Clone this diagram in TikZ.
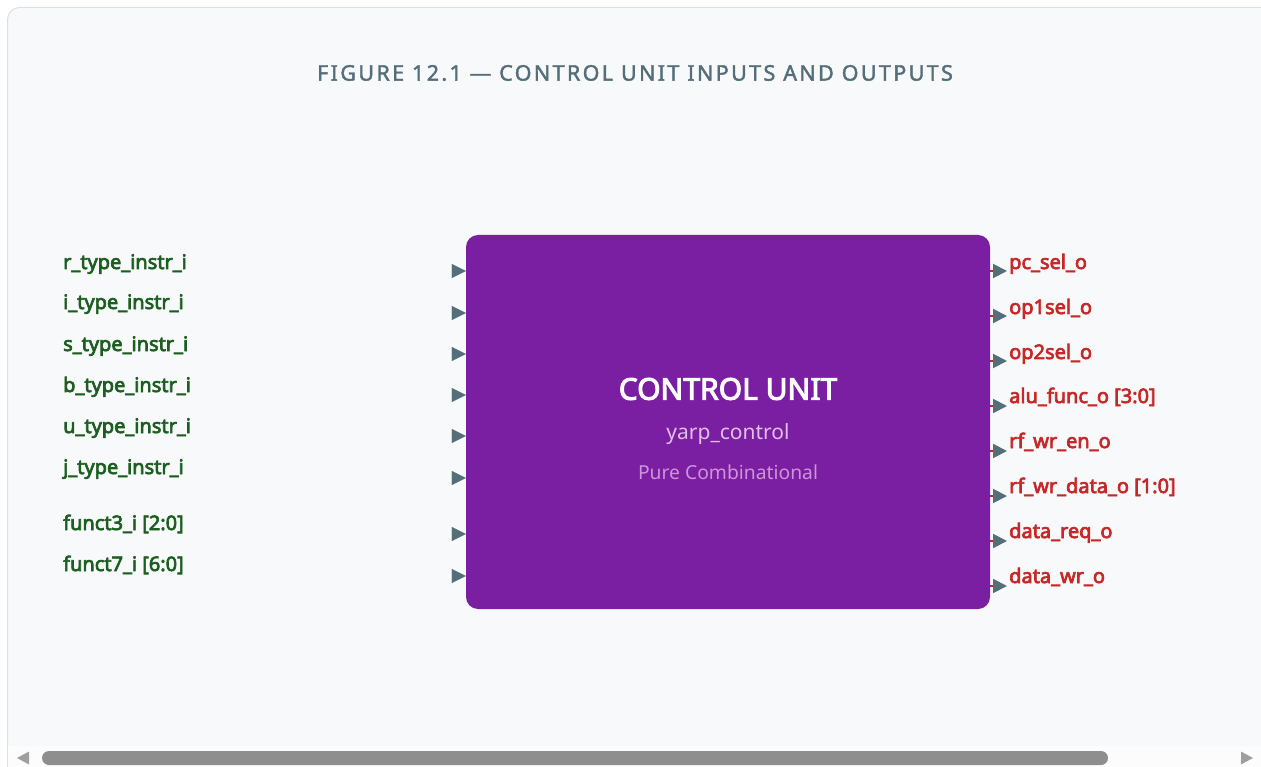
\documentclass[tikz,border=0pt]{standalone}
\usepackage{fontspec}
\setmainfont{Noto Sans}
\newfontfamily\bsans{Noto Sans}[FakeBold=3.4]
\newfontfamily\titlefont{Noto Sans}[FakeBold=1.8, LetterSpace=11]
\usetikzlibrary{arrows.meta}

\definecolor{pagebg}{HTML}{F8F9FA}
\definecolor{framecol}{HTML}{DDE1E5}
\definecolor{titlecol}{HTML}{546E7A}
\definecolor{incol}{HTML}{1B5E20}
\definecolor{outcol}{HTML}{C62828}
\definecolor{unitcol}{HTML}{7B1FA2}
\definecolor{subcol}{HTML}{E1BEE7}
\definecolor{notecol}{HTML}{CE93D8}
\definecolor{tipcol}{HTML}{546E7A}
\definecolor{barcol}{HTML}{8E8E8E}
\definecolor{barbg}{HTML}{FCFCFC}

\tikzset{
  inlabel/.style={anchor=base west, inner sep=0pt, text=incol, font=\bsans\fontsize{20}{22}\selectfont},
  outlabel/.style={anchor=base west, inner sep=0pt, text=outcol, font=\bsans\fontsize{20}{22}\selectfont},
  pintip/.style={-{Triangle[length=14pt,width=14pt,color=tipcol]}},
  inpin/.style={pintip, draw=tipcol, line width=0.2pt},
  outpin/.style={pintip, draw=outcol, line width=2pt},
  unitbox/.style={fill=unitcol, rounded corners=12pt, minimum width=524pt, minimum height=374pt, inner sep=0pt},
}

\begin{document}
\begin{tikzpicture}[x=1pt,y=-1pt]
\useasboundingbox (0,0) rectangle (1261,767);
\fill[white] (0,0) rectangle (1261,767);

% card frame, running past the right and bottom edges
\draw[framecol, fill=pagebg, line width=1pt, rounded corners=12pt] (7.5,7.5) rectangle (1275,790);

% horizontal scrollbar
\fill[barbg] (8,746) rectangle (1261,767);
\fill[barcol, rounded corners=7pt] (42,751) rectangle (1108,765);
\fill[barcol!85] (17,758) -- (29,751.5) -- (29,764.5) -- cycle;
\fill[barcol!85] (1253,758) -- (1241,751.5) -- (1241,764.5) -- cycle;

% title
\node[text=titlecol, font=\titlefont\fontsize{21.5}{24}\selectfont, inner sep=0pt] (title) at (635,73) {FIGURE 12.1 — CONTROL UNIT INPUTS AND OUTPUTS};

% control unit block
\node[unitbox] (cu) at (728,422) {};
\node[text=white, font=\bsans\fontsize{30}{34}\selectfont, inner sep=0pt] (cuname) at (728,389) {CONTROL UNIT};
\node[text=subcol, font=\fontsize{21}{24}\selectfont, inner sep=0pt] (cumod) at (728,434) {yarp\_control};
\node[text=notecol, font=\fontsize{19.3}{22}\selectfont, inner sep=0pt] (cunote) at (728,472) {Pure Combinational};

% inputs
\foreach \name/\txt/\ly/\ay in {
  ri/r\_type\_instr\_i/269/271,
  ii/i\_type\_instr\_i/309/313,
  si/s\_type\_instr\_i/351/354,
  bi/b\_type\_instr\_i/392/395,
  ui/u\_type\_instr\_i/433/436,
  ji/j\_type\_instr\_i/474/478,
  f3/funct3\_i [2:0]/530/534,
  f7/funct7\_i [6:0]/571/576}{
  \node[inlabel] (\name) at (63,\ly) {\txt};
  \coordinate (\name-src) at (452,\ay);
  \coordinate (\name-dst) at (cu.west |- \name-src);
  \draw[inpin] (\name-src) -- (\name-dst);
}

% outputs
\foreach \name/\txt/\ly/\ay in {
  pc/pc\_sel\_o/269/271,
  op1/op1sel\_o/314/316,
  op2/op2sel\_o/359/361,
  alu/alu\_func\_o [3:0]/403/406,
  rfe/rf\_wr\_en\_o/448/451,
  rfd/rf\_wr\_data\_o [1:0]/493/496,
  drq/data\_req\_o/538/541,
  dwr/data\_wr\_o/583/586}{
  \node[outlabel] (\name) at (1009,\ly) {\txt};
  \coordinate (\name-dst) at (1007,\ay);
  \coordinate (\name-src) at (cu.east |- \name-dst);
  \draw[outpin] (\name-src) -- (\name-dst);
}
\end{tikzpicture}
\end{document}
